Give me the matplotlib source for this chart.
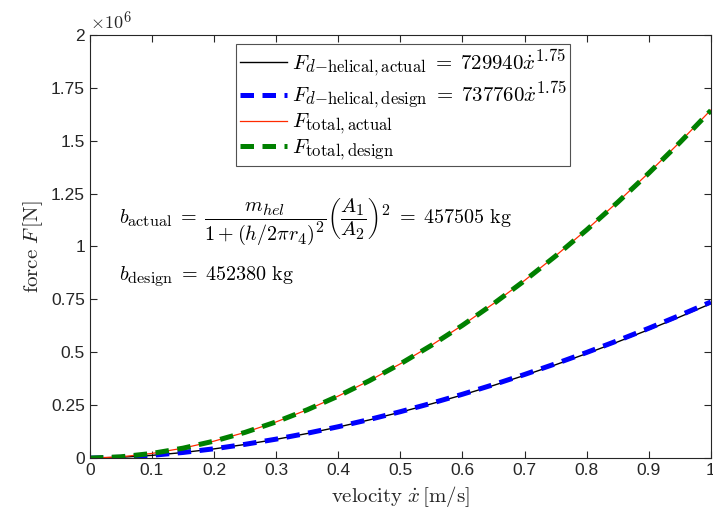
import numpy as np
import matplotlib
matplotlib.use('Agg')
import matplotlib.pyplot as plt
import matplotlib._mathtext as mt

# LaTeX-like sub/superscript size
mt.SHRINK_FACTOR = 0.8
plt.rcParams['mathtext.fontset'] = 'cm'
plt.rcParams['font.family'] = ['Liberation Sans', 'DejaVu Sans']

# velocity samples and forces (N)
velocity = [0.0, 0.05, 0.1, 0.15, 0.2, 0.25, 0.3, 0.35, 0.4, 0.45, 0.5,
            0.55, 0.6, 0.65, 0.7, 0.75, 0.8, 0.85, 0.9, 0.95, 1.0]
fd_actual = [0, 3860, 12980, 26390, 43660, 64520, 88770, 116260, 146850, 180470, 217010,
             256390, 298570, 343470, 391040, 441210, 493990, 549250, 607030, 667270, 729940]
fd_design = [0, 3900, 13120, 26670, 44130, 65210, 89720, 117510, 148420, 182400, 219330,
             259140, 301770, 347150, 395230, 445940, 499280, 555130, 613530, 674420, 737760]
ftot_actual = [0, 6150, 22130, 46980, 80260, 121710, 171120, 228350, 293250, 365760, 445760,
               533180, 627970, 730060, 839400, 955900, 1079600, 1210350, 1348190, 1493070, 1644950]
ftot_design = [0, 6160, 22170, 47030, 80320, 121760, 171150, 228340, 293180, 365610, 445520,
               532830, 627480, 729410, 838560, 954870, 1078330, 1208820, 1346390, 1490970, 1642520]

labels = [r'$F_{d\mathrm{-helical,actual}}\;=\;729940\dot{x}^{1.75}$',
          r'$F_{d\mathrm{-helical,design}}\;=\;737760\dot{x}^{1.75}$',
          r'$F_{\mathrm{total,actual}}$',
          r'$F_{\mathrm{total,design}}$']

yticks = [0, 0.25, 0.5, 0.75, 1, 1.25, 1.5, 1.75, 2]
xticks = [0, 0.1, 0.2, 0.3, 0.4, 0.5, 0.6, 0.7, 0.8, 0.9, 1]

fig = plt.figure(figsize=(7.13, 5.2), dpi=100)
ax = fig.add_axes([0.126, 0.119, 0.871, 0.814])

x = np.array(velocity)
dash = (0, (2.7, 1.7))
ax.plot(x, np.array(fd_actual) / 1e6, color='k', lw=1.0, label=labels[0])
ax.plot(x, np.array(fd_design) / 1e6, color='#0000ff', lw=3.6, ls=dash, label=labels[1])
ax.plot(x, np.array(ftot_actual) / 1e6, color='#ff2a00', lw=0.9, label=labels[2])
ax.plot(x, np.array(ftot_design) / 1e6, color='#008000', lw=3.6, ls=dash, label=labels[3])

ax.set_xlim(0, 1)
ax.set_ylim(0, 2)
ax.set_xticks(xticks)
ax.set_xticklabels([('%g' % v) for v in xticks])
ax.set_yticks(yticks)
ax.set_yticklabels([('%g' % v) for v in yticks])
ax.tick_params(direction='in', top=True, right=True, length=5, width=0.8,
               labelsize=12.5, colors='#262626', labelcolor='#262626')
for s in ax.spines.values():
    s.set_linewidth(0.8)
    s.set_color('#262626')

ax.text(0.0, 1.003, r'$\times 10^{6}$', transform=ax.transAxes, fontsize=13,
        color='#262626', ha='left', va='bottom')

ax.set_xlabel(r'$\mathrm{velocity}\ \dot{x}\,\mathrm{[m/s]}$', fontsize=15, color='#262626')
ax.set_ylabel(r'$\mathrm{force}\ F\,\mathrm{[N]}$', fontsize=15, color='#262626')

leg = ax.legend(loc='upper left', bbox_to_anchor=(0.236, 0.978), borderaxespad=0, fontsize=15,
                frameon=True, fancybox=False, edgecolor='#262626', handlelength=2.3,
                handletextpad=0.2, borderpad=0.15, labelspacing=0.0)
leg.get_frame().set_linewidth(0.8)

ax.text(0.047, 0.558,
        r'$b_{\mathrm{actual}}\;=\;\dfrac{m_{hel}}{1+(h/2\pi r_4)^2}\left(\dfrac{A_1}{A_2}\right)^2\;=\;457505\ \mathrm{kg}$',
        transform=ax.transAxes, fontsize=14.5, va='center', ha='left')
ax.text(0.047, 0.428, r'$b_{\mathrm{design}}\;=\;452380\ \mathrm{kg}$',
        transform=ax.transAxes, fontsize=14.5, va='center', ha='left')

fig.savefig('out.png', dpi=100)
